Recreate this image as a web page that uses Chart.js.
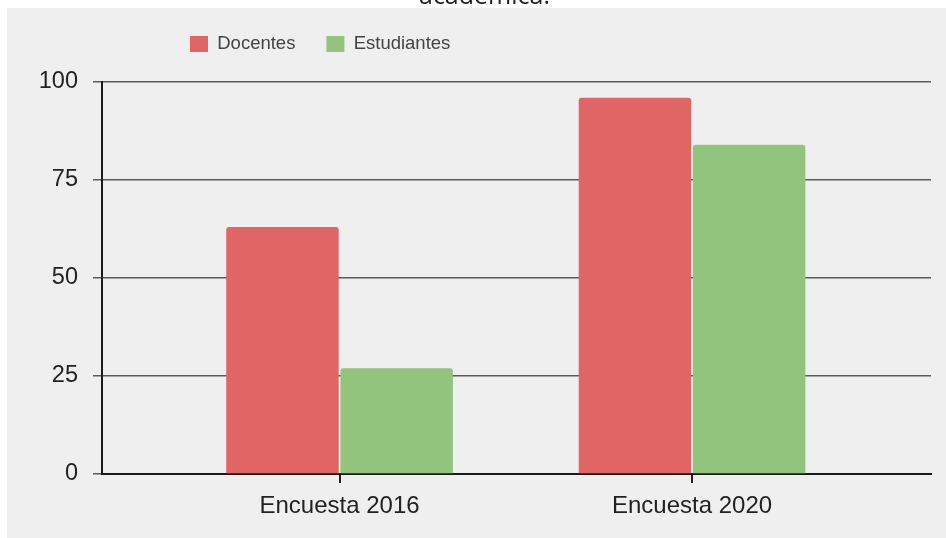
<!DOCTYPE html>
<html>
<head>
<meta charset="utf-8">
<script src="https://cdn.jsdelivr.net/npm/chart.js@4/dist/chart.umd.min.js"></script>
<style>
  html, body { margin: 0; padding: 0; background: #fff; overflow: hidden; }
  #wrap { position: absolute; left: 7px; top: 8px; width: 939px; height: 530px; background: #efefef; }
  #cap { position: absolute; left: 0; top: -18px; width: 969px; text-align: center; z-index: 2;
         font: 25px "Open Sans", sans-serif; line-height: 25px; color: #222; }
</style>
</head>
<body>
<div id="wrap"><canvas id="chart" width="939" height="530"></canvas></div>
<div id="cap">académica.</div>
<script>
// data
const categories = ['Encuesta 2016', 'Encuesta 2020'];
const docentes = [63, 96];
const estudiantes = [27, 84];
const yTicks = [0, 25, 50, 75, 100];

const FONT = '"Liberation Sans", Arial, sans-serif';

// bars sit on a numeric x scale so the groups can be placed like the original
const toPoints = (vals) => vals.map((v, i) => ({ x: i, y: v }));

// legend sits left of centre in the original
const legendSpot = {
  id: 'legendSpot',
  afterLayout(chart) {
    chart.legend.left = 152;
    chart.legend.top = -4.25;
  }
};

const ctx = document.getElementById('chart').getContext('2d');
new Chart(ctx, {
  type: 'bar',
  data: {
    datasets: [
      { label: 'Docentes', data: toPoints(docentes), backgroundColor: '#e06666', borderRadius: 3 },
      { label: 'Estudiantes', data: toPoints(estudiantes), backgroundColor: '#93c47d', borderRadius: 3 }
    ]
  },
  options: {
    responsive: false,
    animation: false,
    categoryPercentage: 0.648,
    barPercentage: 0.985,
    layout: { padding: { top: 14.5, left: 0, right: 15, bottom: 0 } },
    plugins: {
      tooltip: { enabled: false },
      legend: {
        position: 'top',
        align: 'start',
        labels: {
          boxWidth: 18,
          boxHeight: 16,
          padding: 31,
          color: '#444',
          font: { family: FONT, size: 18.5 }
        }
      }
    },
    scales: {
      x: {
        type: 'linear',
        offset: false,
        min: -0.674,
        max: 1.678,
        z: 1,
        afterBuildTicks: (s) => { s.ticks = categories.map((_, i) => ({ value: i })); },
        afterFit: (s) => { s.height = 64; },
        grid: { offset: false, drawOnChartArea: false, drawTicks: true, tickLength: 9, color: '#222', lineWidth: 2 },
        border: { display: true, color: '#1a1a1a', width: 2 },
        ticks: {
          padding: 9,
          maxRotation: 0,
          autoSkip: false,
          color: '#222',
          font: { family: FONT, size: 24 },
          callback: (v) => categories[v]
        }
      },
      y: {
        min: 0,
        max: 100,
        afterBuildTicks: (s) => { s.ticks = yTicks.map((v) => ({ value: v })); },
        afterFit: (s) => { s.width = 95; },
        grid: { color: '#5c5c5c', lineWidth: 1.5, tickLength: 9 },
        border: { display: true, color: '#1a1a1a', width: 2 },
        ticks: {
          padding: 15,
          color: '#222',
          font: { family: FONT, size: 23.5 }
        }
      }
    }
  },
  plugins: [legendSpot]
});
</script>
</body>
</html>
